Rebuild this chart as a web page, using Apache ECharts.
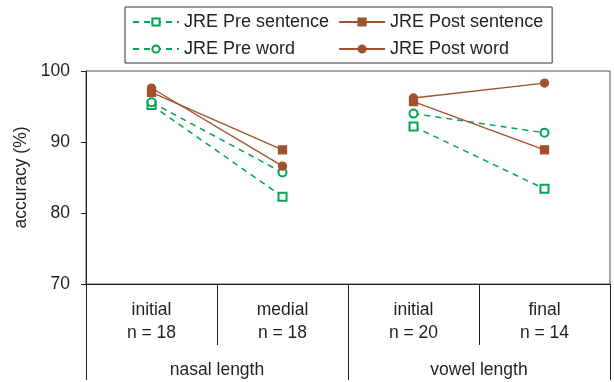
<!DOCTYPE html>
<html>
<head>
<meta charset="utf-8">
<script src="https://cdn.jsdelivr.net/npm/echarts@6/dist/echarts.min.js"></script>
<style>html,body{margin:0;padding:0;background:#fff}#c{width:614px;height:382px}</style>
</head>
<body>
<div id="c"></div>
<script>
const categories = ["initial\nn = 18", "medial\nn = 18", "initial\nn = 20", "final\nn = 14"];
const groups = ["nasal length", "vowel length"];
const preSentence = [95.2, 82.3, 92.2, 83.4];
const preWord = [95.6, 85.7, 94.0, 91.3];
const postSentence = [97.0, 88.9, 95.7, 88.9];
const postWord = [97.6, 86.6, 96.2, 98.3];
const yMin = 70, yMax = 100, yStep = 10;

const GREEN = '#00a651', BROWN = '#a0522d';
const FONT = 'Liberation Sans';
const TXT = '#231f20';
const AX = 17.5;

function split(vals) {
  return [
    [vals[0], vals[1], '-', '-'],
    ['-', '-', vals[2], vals[3]]
  ];
}
function mk(name, vals, color, symbol, dashed) {
  return split(vals).map(d => ({
    name, type: 'line', data: d, xAxisIndex: 0,
    symbol, symbolSize: 8,
    connectNulls: false,
    itemStyle: { color, borderColor: color, borderWidth: 1.3 },
    lineStyle: { color, width: dashed ? 1.5 : 1.3, type: dashed ? [6, 5] : 'solid' }
  }));
}
const series = [].concat(
  mk('JRE Pre sentence', preSentence, GREEN, 'emptyRect', true),
  mk('JRE Pre word', preWord, GREEN, 'emptyCircle', true),
  mk('JRE Post sentence', postSentence, BROWN, 'rect', false),
  mk('JRE Post word', postWord, BROWN, 'circle', false)
);

const chart = echarts.init(document.getElementById('c'), null, { renderer: 'canvas' });
chart.setOption({
  animation: false,
  textStyle: { fontFamily: FONT, color: TXT },
  grid: { left: 86, right: 4, top: 71, bottom: 96, show: true, borderColor: '#555', borderWidth: 1 },
  legend: {
    orient: 'vertical', left: 125, top: 7, height: 60,
    padding: [6, 9, 5, 7], itemGap: 9, itemWidth: 46, itemHeight: 9,
    borderColor: '#333', borderWidth: 1,
    textStyle: { fontFamily: FONT, fontSize: 18, color: TXT, lineHeight: 18 },
    data: ['JRE Pre sentence', 'JRE Pre word', 'JRE Post sentence', 'JRE Post word']
  },
  xAxis: [
    {
      type: 'category', data: categories, position: 'bottom', boundaryGap: true,
      axisLine: { show: true, lineStyle: { color: '#222', width: 1 } },
      axisTick: { show: true, interval: 0, length: 61, lineStyle: { color: '#222' } },
      axisLabel: { interval: 0, margin: 15, fontFamily: FONT, fontSize: AX, lineHeight: 23, color: TXT }
    },
    {
      type: 'category', data: groups, position: 'bottom', boundaryGap: true,
      axisLine: { show: false },
      axisTick: { show: true, interval: 0, length: 96, lineStyle: { color: '#222' } },
      axisLabel: { interval: 0, margin: 75, fontFamily: FONT, fontSize: AX, lineHeight: 23, color: TXT }
    }
  ],
  yAxis: {
    type: 'value', min: yMin, max: yMax, interval: yStep,
    name: 'accuracy (%)', nameLocation: 'middle', nameRotate: 90, nameGap: 55,
    nameTextStyle: { fontFamily: FONT, fontSize: AX, color: TXT },
    axisLine: { show: true, lineStyle: { color: '#222' } },
    axisTick: { show: true, length: 5, lineStyle: { color: '#222' } },
    axisLabel: { margin: 16, fontFamily: FONT, fontSize: AX, color: TXT },
    splitLine: { show: false }
  },
  series
});
</script>
</body>
</html>
